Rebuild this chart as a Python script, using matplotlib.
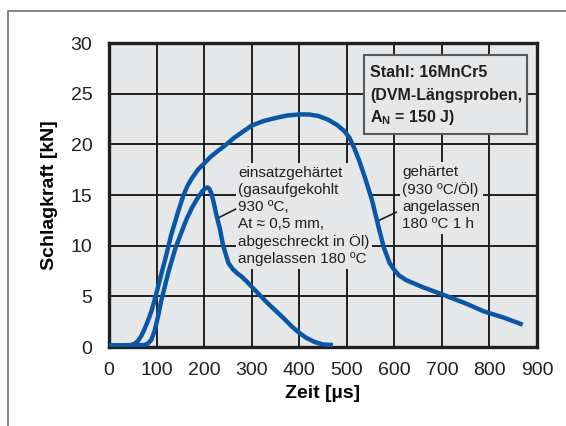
import matplotlib
matplotlib.use("Agg")
import matplotlib.pyplot as plt
from matplotlib.patches import Rectangle

# gehaertet (930 C / Oel), angelassen 180 C 1 h
geh_t = [0, 30, 47, 55, 61, 68, 75, 82, 89, 98, 110, 120, 131, 145, 156, 165,
         175, 187, 200, 212, 225, 236, 247, 262, 277, 300, 325, 350, 375, 400,
         420, 440, 460, 480, 495, 505, 516, 526, 537, 553, 567, 578, 590, 600,
         610, 625, 660, 700, 750, 789, 830, 870]
geh_F = [0.15, 0.15, 0.2, 0.35, 0.6, 1.1, 1.8, 2.6, 3.5, 5.0, 7.2, 9.0, 11.1,
         13.3, 14.9, 15.9, 16.7, 17.5, 18.1, 18.7, 19.2, 19.6, 20.0, 20.6, 21.1,
         21.85, 22.3, 22.6, 22.85, 22.95, 22.95, 22.8, 22.45, 21.9, 21.3, 20.7,
         19.6, 18.4, 16.9, 14.5, 11.8, 9.8, 8.3, 7.6, 7.05, 6.6, 5.9, 5.2, 4.3,
         3.5, 2.9, 2.2]

# einsatzgehaertet
ein_t = [0, 50, 75, 82, 89, 96, 103, 110, 125, 140, 153, 163, 174, 185, 195,
         202, 207, 211, 215, 220, 226, 233, 240, 251, 260, 269, 280, 291, 300,
         332, 368, 385, 400, 415, 432, 450, 471]
ein_F = [0.15, 0.15, 0.2, 0.35, 0.7, 1.6, 3.0, 4.6, 7.4, 9.8, 11.4, 12.6, 13.7,
         14.6, 15.3, 15.65, 15.75, 15.6, 15.2, 14.3, 13.0, 11.7, 10.0, 8.3, 7.7,
         7.3, 6.9, 6.4, 5.95, 4.4, 2.8, 2.0, 1.4, 0.9, 0.5, 0.25, 0.2]

x_ticks = [0, 100, 200, 300, 400, 500, 600, 700, 800, 900]
y_ticks = [0, 5, 10, 15, 20, 25, 30]

blue = "#0a58a5"
bg = "#e6e7e8"
ink = "#231f20"

plt.rcParams["font.family"] = ["Liberation Sans", "DejaVu Sans"]
plt.rcParams["text.color"] = ink

fig = plt.figure(figsize=(5.66, 4.26), dpi=100)
ax = fig.add_axes([109 / 566, 79 / 426, 428 / 566, 304 / 426])
ax.set_facecolor(bg)

ax.plot(geh_t, geh_F, color=blue, lw=3.2, zorder=4, solid_capstyle="butt")
ax.plot(ein_t, ein_F, color=blue, lw=3.2, zorder=4, solid_capstyle="butt")

ax.set_xlim(0, 900)
ax.set_ylim(0, 30)
ax.set_xticks(x_ticks)
ax.set_yticks(y_ticks)
ax.tick_params(length=0, labelsize=14, colors=ink)
ax.tick_params(axis="x", pad=11)
ax.tick_params(axis="y", pad=12)
ax.set_axisbelow(True)
ax.grid(True, color=ink, lw=1.4)
for s in ax.spines.values():
    s.set_linewidth(2.4)
    s.set_color(ink)

ax.set_xlabel("Zeit [µs]", fontsize=14, fontweight="bold", labelpad=4)
ax.set_ylabel("Schlagkraft [kN]", fontsize=14, fontweight="bold", labelpad=9)

# curve labels
txt_kw = dict(fontsize=11, va="center", ha="left", linespacing=1.27, zorder=3,
              bbox=dict(facecolor=bg, edgecolor="none", pad=2))
ax.text(272, 12.95, "einsatzgehärtet\n(gasaufgekohlt\n930 ºC,\nAt ≈ 0,5 mm,\n"
        "abgeschreckt in Öl)\nangelassen 180 ºC", **txt_kw)
ax.text(617, 14.7, "gehärtet\n(930 ºC/Öl)\nangelassen\n180 ºC 1 h", **txt_kw)
ax.plot([228, 266], [12.7, 13.6], color=ink, lw=1.2, zorder=3)
ax.plot([568, 604], [12.5, 13.3], color=ink, lw=1.2, zorder=3)

# material box
ax.add_patch(Rectangle((536, 21.0), 342, 7.8, facecolor=bg, edgecolor="#58595b",
                       lw=1.5, zorder=3))
box_lines = ["Stahl: 16MnCr5", "(DVM-Längsproben,", "A$_\\mathregular{N}$ = 150 J)"]
box_y = [27.1, 24.8, 22.6]
for line, yy in zip(box_lines, box_y):
    ax.text(549, yy, line, fontsize=11.5, fontweight="bold", va="center",
            ha="left", zorder=4)

# outer frame
fig.add_artist(Rectangle((8 / 566, -0.1), 1.2, (426 - 11) / 426 + 0.1,
                         transform=fig.transFigure, fill=False,
                         edgecolor="#6d6e71", lw=1.2))

fig.savefig("out.png", dpi=100)
